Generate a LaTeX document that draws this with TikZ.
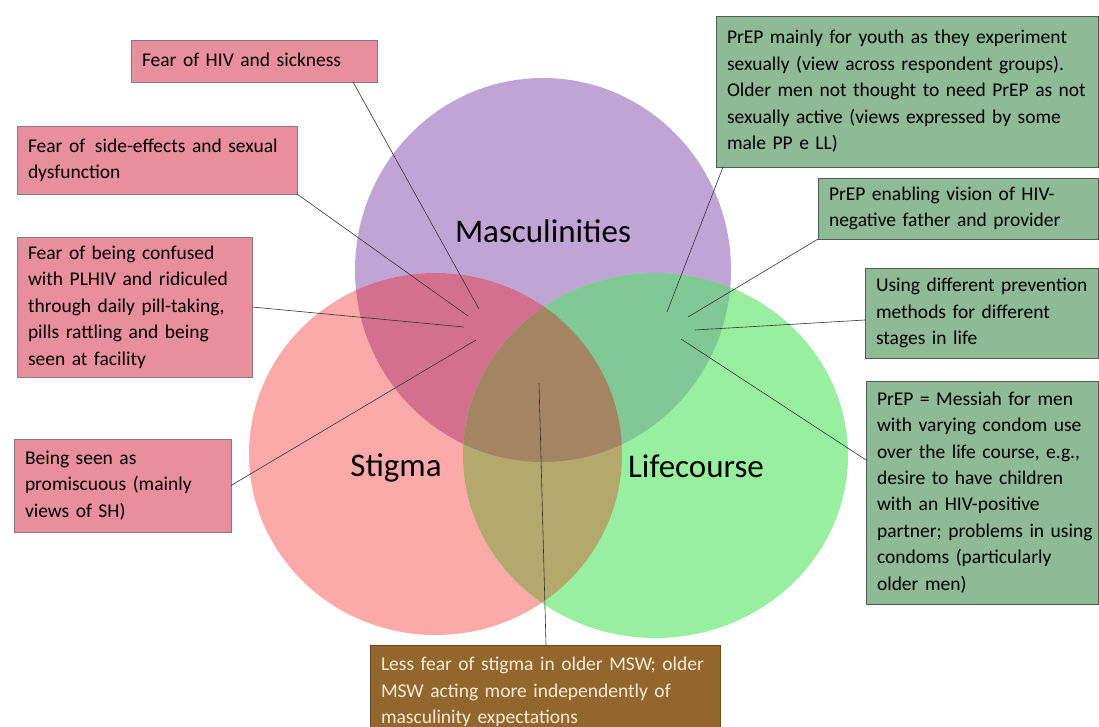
\documentclass[tikz,border=0pt]{standalone}
\usepackage{fontspec}
\setmainfont{Carlito}
\definecolor{cPur}{RGB}{191,164,213}
\definecolor{cPnk}{RGB}{252,169,169}
\definecolor{cGrn}{RGB}{151,239,159}
\definecolor{cPurPnk}{RGB}{212,112,143}
\definecolor{cPurGrn}{RGB}{128,200,149}
\definecolor{cPnkGrn}{RGB}{181,168,109}
\definecolor{cAll}{RGB}{163,133,99}
\definecolor{bPnk}{RGB}{232,142,156}
\definecolor{bGrn}{RGB}{143,186,150}
\definecolor{bBrn}{RGB}{147,102,46}
\definecolor{tCream}{RGB}{250,236,212}
\definecolor{edgePnk}{RGB}{140,120,128}
\definecolor{edgeGrn}{RGB}{80,92,84}
\newcommand{\boxlines}[1]{\begin{tabular}{@{}l@{}}#1\end{tabular}}
\begin{document}
\begin{tikzpicture}[x=1pt,y=-1pt,
  box/.style={draw, line width=0.8pt, anchor=north west, inner xsep=11pt, inner ysep=2pt,
    outer sep=0pt, align=left, font=\fontsize{19.5}{26.4}\selectfont},
  pbox/.style={box, fill=bPnk, draw=edgePnk},
  gbox/.style={box, fill=bGrn, draw=edgeGrn},
  bbox/.style={box, fill=bBrn, draw=bBrn!70!black, text=tCream},
  title/.style={anchor=base, font=\fontsize{33}{36}\selectfont},
  link/.style={draw=black!80, line width=0.6pt}]
\useasboundingbox (0,0) rectangle (1099,727);
\clip (0,0) rectangle (1099,727);
\fill[white] (0,0) rectangle (1099,727);
% circles
\def\purE{(543,270) ellipse [x radius=188pt, y radius=192pt]}
\def\pnkE{(435.5,454) ellipse [x radius=186.5pt, y radius=181pt]}
\def\grnE{(655.5,455.5) ellipse [x radius=192.5pt, y radius=182.5pt]}
\fill[cPur] \purE;
\fill[cPnk] \pnkE;
\fill[cGrn] \grnE;
\begin{scope}\clip \purE; \fill[cPurPnk] \pnkE; \end{scope}
\begin{scope}\clip \purE; \fill[cPurGrn] \grnE; \end{scope}
\begin{scope}\clip \pnkE; \fill[cPnkGrn] \grnE; \end{scope}
\begin{scope}\clip \purE; \clip \pnkE; \fill[cAll] \grnE; \end{scope}
% titles
\node[title] (tMas) at (543,243) {Masculinities};
\node[title] (tSti) at (396,476) {Stigma};
\node[title] (tLif) at (696,477) {Lifecourse};
% boxes
\node[pbox, text width=224pt, minimum height=42pt] (hiv) at (131,40) {\boxlines{Fear of HIV and sickness}};
\node[pbox, text width=258pt, minimum height=68pt] (side) at (17,126) {\boxlines{Fear of\, side-effects and sexual\\dysfunction}};
\node[pbox, text width=213pt, minimum height=140pt] (conf) at (17,237) {\boxlines{Fear of being confused\\with PLHIV and ridiculed\\through daily pill-taking,\\pills rattling and being\\seen at facility}};
\node[pbox, text width=195pt, minimum height=93pt] (prom) at (14,439) {\boxlines{Being seen as\\promiscuous (mainly\\views of SH)}};
\node[gbox, text width=360pt, minimum height=151pt] (youth) at (716,16) {\boxlines{PrEP mainly for youth as they experiment\\sexually (view across respondent groups).\\Older men not thought to need PrEP as not\\sexually active (views expressed by some\\male PP e LL)}};
\node[gbox, text width=258pt, minimum height=61pt] (enab) at (818,178) {\boxlines{PrEP enabling vision of HIV-\\negative father and provider}};
\node[gbox, text width=211pt, minimum height=90pt] (diff) at (865,268) {\boxlines{Using different prevention\\methods for different\\stages in life}};
\node[gbox, text width=210pt, minimum height=223pt] (mess) at (866,381) {\boxlines{PrEP = Messiah for men\\with varying condom use\\over the life course, e.g.,\\desire to have children\\with an HIV-positive\\partner; problems in using\\condoms (particularly\\older men)}};
\node[bbox, text width=328pt, minimum height=94pt] (less) at (370,645) {\boxlines{Less fear of stigma in older MSW; older\\MSW acting more independently of\\masculinity expectations}};
% free ends
\coordinate (e1) at (479,309);
\coordinate (e2) at (468,316);
\coordinate (e3) at (464,327);
\coordinate (e4) at (476,340);
\coordinate (e5) at (667,312);
\coordinate (e6) at (688,317);
\coordinate (e7) at (695,330);
\coordinate (e8) at (681,339);
\coordinate (e9) at (539,383);
% connectors
\draw[link] ([xshift=222pt]hiv.south west) -- (e1);
\draw[link] (side.south east) -- (e2);
\draw[link] (conf.east) -- (e3);
\draw[link] (prom.east) -- (e4);
\draw[link] ([xshift=7pt]youth.south west) -- (e5);
\draw[link] (enab.south west) -- (e6);
\draw[link] ([yshift=-7pt]diff.west) -- (e7);
\draw[link] ([yshift=32.5pt]mess.west) -- (e8);
\draw[link] ([xshift=176pt]less.north west) -- (e9);
\end{tikzpicture}
\end{document}
